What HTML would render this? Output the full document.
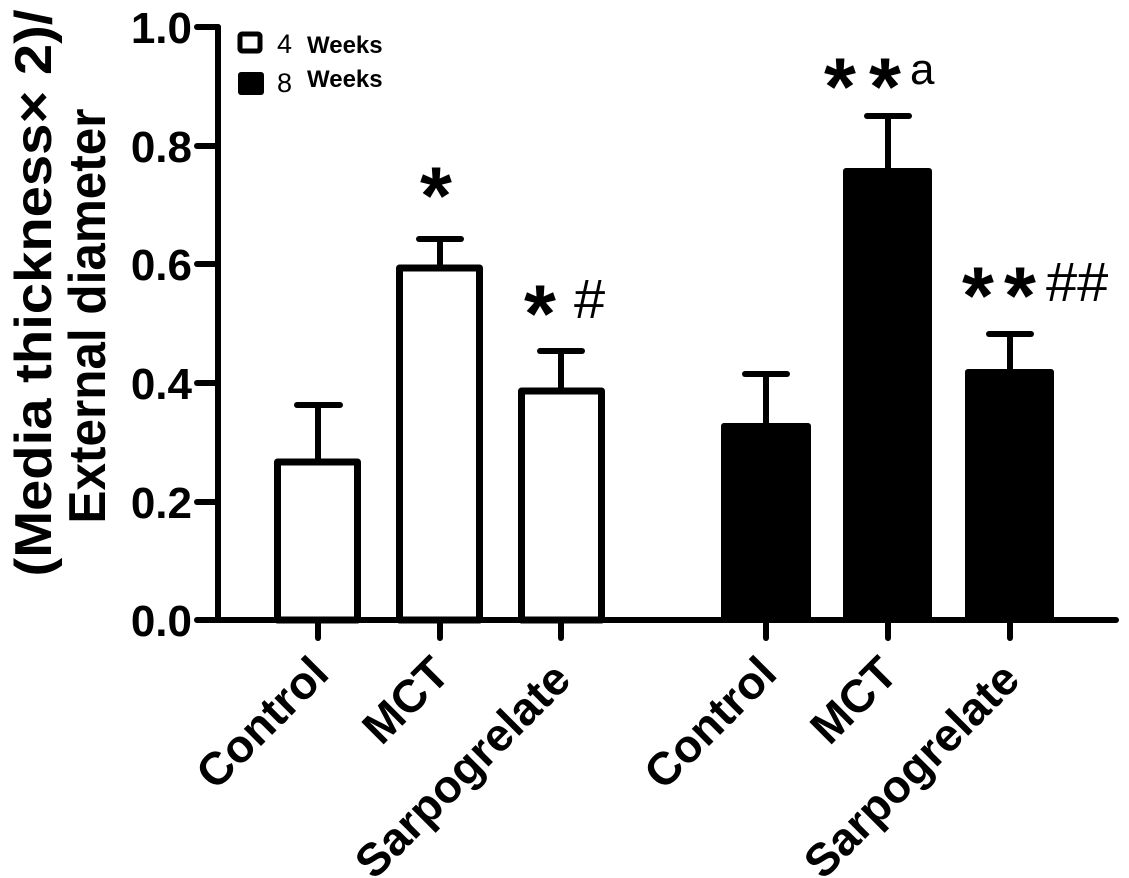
<!DOCTYPE html>
<html><head><meta charset="utf-8"><style>body{margin:0;background:#fff}svg{display:block}</style></head>
<body>
<svg width="1129" height="878" xmlns="http://www.w3.org/2000/svg" font-family="Liberation Sans, Arial, sans-serif">
<g stroke="#000" stroke-width="6" fill="none" stroke-linecap="round">
<line x1="218" y1="27" x2="218" y2="620"/>
<line x1="218" y1="620" x2="1116" y2="620"/>
<line x1="197" y1="27" x2="218" y2="27"/>
<line x1="197" y1="146" x2="218" y2="146"/>
<line x1="197" y1="264" x2="218" y2="264"/>
<line x1="197" y1="383" x2="218" y2="383"/>
<line x1="197" y1="502" x2="218" y2="502"/>
<line x1="197" y1="620" x2="218" y2="620"/>
<line x1="318" y1="620" x2="318" y2="638"/>
<line x1="440" y1="620" x2="440" y2="638"/>
<line x1="561" y1="620" x2="561" y2="638"/>
<line x1="766" y1="620" x2="766" y2="638"/>
<line x1="888" y1="620" x2="888" y2="638"/>
<line x1="1010" y1="620" x2="1010" y2="638"/>
<line x1="318" y1="460" x2="318" y2="405"/><line x1="297" y1="405" x2="340" y2="405"/>
<line x1="440" y1="267" x2="440" y2="239"/><line x1="419" y1="239" x2="461" y2="239"/>
<line x1="561" y1="390" x2="561" y2="351"/><line x1="540" y1="351" x2="582" y2="351"/>
<line x1="766" y1="423" x2="766" y2="374"/><line x1="745" y1="374" x2="787" y2="374"/>
<line x1="888" y1="168" x2="888" y2="116"/><line x1="867" y1="116" x2="909" y2="116"/>
<line x1="1010" y1="370" x2="1010" y2="334"/><line x1="989" y1="334" x2="1031" y2="334"/>
</g>
<g stroke="#000" stroke-width="7" fill="#fff" stroke-linejoin="round">
<rect x="277.5" y="462" width="80" height="158"/>
<rect x="399.5" y="268" width="80" height="352"/>
<rect x="521.5" y="391" width="80" height="229"/>
</g>
<g fill="#000">
<rect x="721" y="423" width="90" height="197" rx="3"/>
<rect x="843" y="168" width="89" height="452" rx="3"/>
<rect x="965" y="369" width="89" height="251" rx="3"/>
</g>
<rect x="240" y="34" width="20" height="17" fill="#fff" stroke="#000" stroke-width="5" rx="2"/>
<rect x="238" y="72" width="26" height="23" fill="#000" rx="3"/>
<text x="277" y="53" font-size="27">4</text><text x="307" y="53" font-size="24" font-weight="bold">Weeks</text>
<text x="277" y="92" font-size="27">8</text><text x="307" y="87" font-size="24" font-weight="bold">Weeks</text>
<g font-size="44" font-weight="bold" text-anchor="end">
<text x="192" y="43">1.0</text><text x="192" y="162">0.8</text><text x="192" y="280">0.6</text>
<text x="192" y="399">0.4</text><text x="192" y="518">0.2</text><text x="192" y="636">0.0</text>
</g>
<g font-size="52" font-weight="bold" text-anchor="middle">
<text transform="translate(51,293) rotate(-90)" textLength="567" lengthAdjust="spacingAndGlyphs">(Media thickness× 2)/</text>
<text transform="translate(105,316) rotate(-90)" textLength="415" lengthAdjust="spacingAndGlyphs">External diameter</text>
</g>
<g font-size="82" font-weight="bold" text-anchor="middle">
<text x="436" y="224">*</text>
<text x="540" y="342">*</text>
<text x="840" y="115">*</text><text x="885" y="115">*</text>
<text x="978" y="324">*</text><text x="1020" y="324">*</text>
</g>
<g font-size="56">
<text x="574" y="318">#</text>
<text x="1046" y="301">##</text>
</g>
<text x="910" y="84" font-size="44">a</text>
<g font-size="46" font-weight="bold" text-anchor="end">
<text transform="translate(331,676) rotate(-45)">Control</text>
<text transform="translate(452,676) rotate(-45)">MCT</text>
<text transform="translate(573,682) rotate(-45)">Sarpogrelate</text>
<text transform="translate(779,676) rotate(-45)">Control</text>
<text transform="translate(900,676) rotate(-45)">MCT</text>
<text transform="translate(1022,682) rotate(-45)">Sarpogrelate</text>
</g>
</svg>
</body></html>
